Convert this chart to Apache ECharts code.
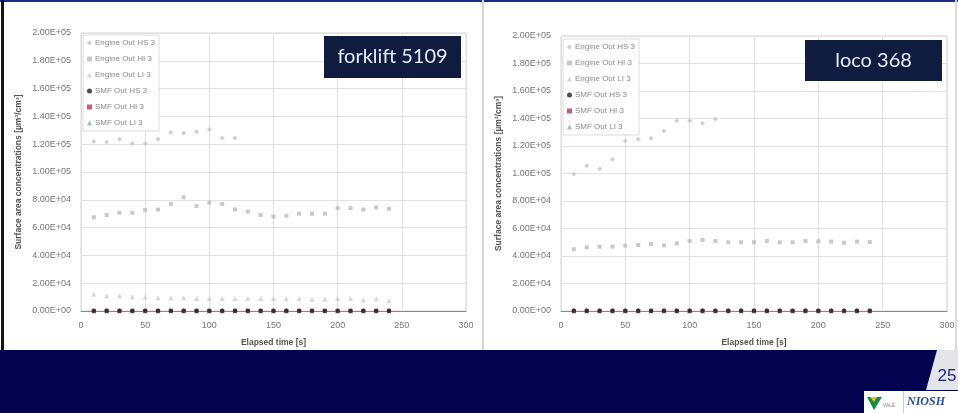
<!DOCTYPE html>
<html>
<head>
<meta charset="utf-8">
<script src="https://cdn.jsdelivr.net/npm/echarts@6/dist/echarts.min.js"></script>
<style>
  html, body { margin: 0; padding: 0; background: #ffffff; }
  #chart { width: 958px; height: 413px; }
</style>
</head>
<body>
<div id="chart"></div>
<script>
// Sampling times (s)
const timesShort = [10, 20, 30, 40, 50, 60, 70, 80, 90, 100, 110, 120];
const timesLong = [10, 20, 30, 40, 50, 60, 70, 80, 90, 100, 110, 120,
                   130, 140, 150, 160, 170, 180, 190, 200, 210, 220, 230, 240];
const xTicks = [0, 50, 100, 150, 200, 250, 300];
const yTicks = [0, 20000, 40000, 60000, 80000, 100000, 120000, 140000, 160000, 180000, 200000];

const seriesNames = ['Engine Out HS 3', 'Engine Out HI 3', 'Engine Out LI 3',
                     'SMF Out HS 3', 'SMF Out HI 3', 'SMF Out LI 3'];

// forklift 5109 — surface area concentrations [µm²/cm³]
const forkEngHS = [122000, 121500, 123500, 120500, 120500, 123500, 128500, 128000, 129000, 130500, 124500, 124500];
const forkEngHI = [67400, 69000, 70700, 70700, 72700, 73000, 77000, 81800, 75500, 78000, 77000, 73000,
                   71500, 69000, 68000, 68500, 70000, 70000, 70000, 74000, 74000, 73000, 74500, 73500];
const forkEngLI = [12000, 11000, 11000, 10300, 10000, 9500, 9500, 9500, 9000, 9000, 9000, 9000,
                   9000, 9000, 9000, 8800, 8800, 8500, 8500, 9000, 9000, 8000, 8800, 7500];
const forkSmfHS = [150, 140, 130, 150, 120, 140, 130, 150, 140, 120, 130, 140,
                   150, 130, 120, 140, 130, 150, 140, 120, 130, 140, 150, 130];
const forkSmfHI = [90, 80, 100, 90, 80, 70, 90, 100, 80, 90, 70, 80,
                   90, 100, 80, 90, 70, 80, 90, 100, 80, 90, 70, 80];
const forkSmfLI = [60, 50, 70, 60, 50, 40, 60, 70, 50, 60, 40, 50,
                   60, 70, 50, 60, 40, 50, 60, 70, 50, 60, 40, 50];

// loco 368 — surface area concentrations [µm²/cm³]
const locoEngHS = [99600, 105700, 103300, 110300, 123600, 124900, 125600, 130900, 138400, 138400, 136500, 139600];
const locoEngHI = [44900, 46300, 46800, 46800, 47500, 48000, 48700, 47700, 49200, 50900, 51600, 50900,
                   50000, 50000, 50000, 50900, 50000, 50000, 50900, 50700, 50400, 49700, 50400, 50200];
const locoEngLI = [900, 850, 800, 900, 850, 800, 900, 850, 800, 900, 850, 800,
                   900, 850, 800, 900, 850, 800, 900, 850, 800, 900, 850, 800];
const locoSmfHS = [140, 150, 130, 140, 120, 150, 140, 130, 150, 140, 120, 130,
                   140, 150, 130, 140, 120, 150, 140, 130, 150, 140, 120, 130];
const locoSmfHI = [80, 90, 100, 80, 90, 70, 80, 90, 100, 80, 90, 70,
                   80, 90, 100, 80, 90, 70, 80, 90, 100, 80, 90, 70];
const locoSmfLI = [50, 60, 70, 50, 60, 40, 50, 60, 70, 50, 60, 40,
                   50, 60, 70, 50, 60, 40, 50, 60, 70, 50, 60, 40];

const FONT = '"Liberation Sans", Arial, sans-serif';
const TITLE_FONT = 'Lato, "Open Sans", sans-serif';

function sci(v) {
  if (v === 0) return '0.00E+00';
  const e = Math.floor(Math.log10(v) + 1e-9);
  const m = v / Math.pow(10, e);
  return m.toFixed(2) + 'E+' + String(e).padStart(2, '0');
}

function pairs(xs, ys) { return ys.map((y, i) => [xs[i], y]); }

const styles = [
  { symbol: 'diamond', size: 5, color: '#c4c4c4' },
  { symbol: 'rect', size: 4, color: '#bcbcbc' },
  { symbol: 'triangle', size: 5, color: '#cdcdcd' },
  { symbol: 'circle', size: 4.5, color: '#222222', z: 6 },
  { symbol: 'rect', size: 4, color: '#c0304a', z: 4 },
  { symbol: 'triangle', size: 5, color: '#7fb5a5', z: 3 }
];

function makeSeries(gridIdx, dataSets) {
  return dataSets.map((d, k) => ({
    name: seriesNames[k],
    type: 'scatter',
    xAxisIndex: gridIdx,
    yAxisIndex: gridIdx,
    symbol: styles[k].symbol,
    symbolSize: styles[k].size,
    itemStyle: { color: styles[k].color },
    z: styles[k].z || 2,
    silent: true,
    data: pairs(d.x, d.y)
  }));
}

function xAxisCfg(gridIdx) {
  return {
    gridIndex: gridIdx, type: 'value', min: xTicks[0], max: xTicks[xTicks.length - 1], interval: 50,
    name: 'Elapsed time [s]', nameLocation: 'middle', nameGap: 27,
    nameTextStyle: { fontFamily: FONT, fontSize: 8.5, fontWeight: 'bold', color: '#555' },
    axisLine: { show: true, onZero: false, lineStyle: { color: '#8a8a8a', width: 1 } },
    axisTick: { show: false },
    axisLabel: { fontFamily: FONT, fontSize: 9, color: '#777', margin: 10 },
    splitLine: { show: true, lineStyle: { color: '#e2e2e2', width: 1 } }
  };
}

function yAxisCfg(gridIdx) {
  return {
    gridIndex: gridIdx, type: 'value', min: yTicks[0], max: yTicks[yTicks.length - 1], interval: 20000,
    name: 'Surface area concentrations [µm²/cm³]', nameLocation: 'middle', nameGap: 58, nameRotate: 90,
    nameTextStyle: { fontFamily: FONT, fontSize: 8.5, fontWeight: 'bold', color: '#555' },
    axisLine: { show: false },
    axisTick: { show: false },
    axisLabel: { fontFamily: FONT, fontSize: 9, color: '#777', margin: 10, formatter: sci },
    splitLine: { show: true, lineStyle: { color: '#e2e2e2', width: 1 } }
  };
}

function legendCfg(left, top) {
  return {
    orient: 'vertical', left: left, top: top,
    data: seriesNames,
    itemWidth: 5, itemHeight: 5, itemGap: 8,
    padding: [4, 4, 4, 4],
    backgroundColor: '#ffffff', borderColor: '#dcdcdc', borderWidth: 1, borderRadius: 0,
    textStyle: { fontFamily: FONT, fontSize: 8, color: '#8a8a8a', padding: [0, 0, 0, -2] },
    selectedMode: false
  };
}

function labelBox(x, y, w, h, text) {
  return {
    type: 'group', left: x, top: y, z: 100,
    children: [
      { type: 'rect', z: 100, shape: { x: 0, y: 0, width: w, height: h }, style: { fill: '#0f1c40' } },
      { type: 'text', z: 101, x: w / 2, y: h / 2, style: { text: text, fill: '#e6ecf4', font: '20px ' + TITLE_FONT, textAlign: 'center', textVerticalAlign: 'middle' } }
    ]
  };
}

const chart = echarts.init(document.getElementById('chart'), null, { renderer: 'canvas' });

chart.setOption({
  backgroundColor: '#ffffff',
  animation: false,
  grid: [
    { left: 81, right: 492, top: 33, bottom: 102, show: true, borderColor: '#d4d4d4', borderWidth: 1, backgroundColor: '#ffffff' },
    { left: 561, right: 11, top: 36, bottom: 102, show: true, borderColor: '#d4d4d4', borderWidth: 1, backgroundColor: '#ffffff' }
  ],
  xAxis: [xAxisCfg(0), xAxisCfg(1)],
  yAxis: [yAxisCfg(0), yAxisCfg(1)],
  legend: [legendCfg(83, 35), legendCfg(563, 39)],
  series: [
    ...makeSeries(0, [
      { x: timesShort, y: forkEngHS }, { x: timesLong, y: forkEngHI }, { x: timesLong, y: forkEngLI },
      { x: timesLong, y: forkSmfHS }, { x: timesLong, y: forkSmfHI }, { x: timesLong, y: forkSmfLI }
    ]),
    ...makeSeries(1, [
      { x: timesShort, y: locoEngHS }, { x: timesLong, y: locoEngHI }, { x: timesLong, y: locoEngLI },
      { x: timesLong, y: locoSmfHS }, { x: timesLong, y: locoSmfHI }, { x: timesLong, y: locoSmfLI }
    ])
  ],
  graphic: [
    // slide frame
    { type: 'rect', left: 0, top: 0, z: -10, shape: { width: 958, height: 2 }, style: { fill: '#1c2c8c' } },
    { type: 'rect', left: 1, top: 0, z: -10, shape: { width: 3, height: 350 }, style: { fill: '#151515' } },
    { type: 'rect', left: 482, top: 0, z: -10, shape: { width: 2, height: 350 }, style: { fill: '#d6d6d6' } },
    { type: 'rect', left: 955, top: 0, z: -10, shape: { width: 2, height: 350 }, style: { fill: '#dadada' } },
    // footer band
    { type: 'rect', left: 0, top: 350, z: 10, shape: { width: 958, height: 63 }, style: { fill: '#03034f' } },
    { type: 'polygon', z: 11, shape: { points: [[937, 350], [958, 350], [958, 390], [926, 390]] }, style: { fill: '#e3e5ea' } },
    { type: 'text', z: 12, x: 947, y: 376, style: { text: '25', fill: '#1b1f7a', font: '17px "Liberation Sans", Arial, sans-serif', textAlign: 'center', textVerticalAlign: 'middle' } },
    { type: 'rect', z: 11, left: 864, top: 391, shape: { width: 94, height: 22 }, style: { fill: '#ffffff' } },
    { type: 'rect', z: 12, left: 903, top: 391, shape: { width: 1, height: 22 }, style: { fill: '#c8c8d8' } },
    { type: 'polygon', z: 12, shape: { points: [[867, 397], [882, 397], [874, 410]] }, style: { fill: '#1a8a4a' } },
    { type: 'polygon', z: 13, shape: { points: [[870, 397], [877, 397], [874, 402]] }, style: { fill: '#e8c21a' } },
    { type: 'text', z: 12, x: 883, y: 406, style: { text: 'VALE', fill: '#8a8a8a', font: '5px "Liberation Sans", Arial, sans-serif', textVerticalAlign: 'middle' } },
    { type: 'text', z: 12, x: 907, y: 402, style: { text: 'NIOSH', fill: '#2a4f9a', font: 'italic bold 12px "Liberation Serif", serif', textVerticalAlign: 'middle' } },
    // unit labels
    labelBox(324, 36, 137, 42, 'forklift 5109'),
    labelBox(805, 40, 137, 41, 'loco 368')
  ]
});
</script>
</body>
</html>
